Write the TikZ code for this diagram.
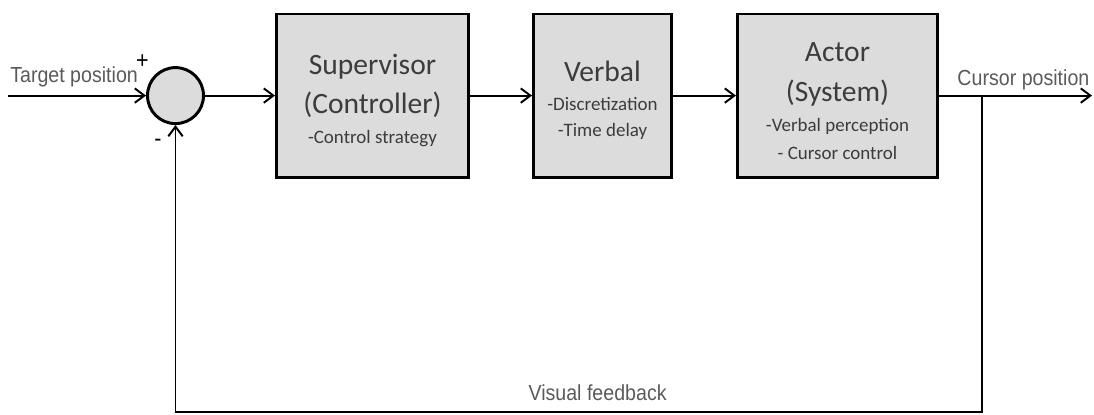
\documentclass[tikz,border=0pt]{standalone}
\usepackage{fontspec}
\setmainfont{Carlito}
\newfontfamily\labelfont[FakeStretch=0.9]{Liberation Sans}
\usetikzlibrary{arrows.meta}

\definecolor{blockgray}{HTML}{DCDCDC}
\definecolor{blocktext}{HTML}{3C3C3C}
\definecolor{labeltext}{HTML}{5A5A5A}

\newcommand{\titlesize}{\fontsize{21}{27}\selectfont}
\newcommand{\notesize}{\fontsize{13.5}{18}\selectfont}
% pushes the block text a little below the middle
\newcommand{\topgap}{\rule{0pt}{21pt}}

\tikzset{
  block/.style = {draw, line width = 2.1pt, fill = blockgray, text = blocktext,
    font = \titlesize, minimum height = 4.08cm, align = center, inner sep = 0pt},
  sumpoint/.style = {draw, circle, line width = 2.1pt, fill = blockgray,
    minimum size = 1.4cm, inner sep = 0pt},
  signal/.style = {line width = 1.4pt,
    -{Straight Barb[length = 2.4mm, width = 3.6mm, line width = 1.4pt]}},
  sig/.style = {text = labeltext, font = \labelfont\fontsize{15.5}{18}\selectfont,
    inner sep = 0pt}
}

\begin{document}
\begin{tikzpicture}
  \useasboundingbox (0, 0) rectangle (27.35, 10.35);

  % summing point and the three blocks
  \node[sumpoint] (sum) at (4.3875, 7.96) {};
  \node[block, minimum width = 4.8cm] (sup) at (9.3125, 7.96)
    {\topgap Supervisor\\[1pt] (Controller)\\[-6pt] \notesize -Control strategy};
  \node[block, minimum width = 3.45cm] (verb) at (15.0625, 7.96)
    {\topgap Verbal\\[-6pt] \notesize -Discretization\\[-9pt] \notesize -Time delay};
  \node[block, minimum width = 5.0cm] (act) at (20.9375, 7.96)
    {\topgap Actor\\[2pt] (System)\\[-6pt] \notesize -Verbal perception\\[-7pt]
     \notesize - Cursor control};

  \coordinate (in) at (0.2, 7.96);
  \coordinate (out) at (27.3, 7.96);
  \coordinate (tap) at (24.55, 7.96);
  \coordinate (fb) at (24.55, 0.05);

  % forward path
  \draw[signal] (in) -- (sum.west);
  \draw[signal] (sum.east) -- (sup.west);
  \draw[signal] (sup.east) -- (verb.west);
  \draw[signal] (verb.east) -- (act.west);
  \draw[signal] (act.east) -- (out);

  % feedback path
  \draw[signal] (tap) -- (fb) -| (sum.south);

  \node[sig, anchor = base west] (target) at (0.25, 8.3) {Target position};
  \node[sig, anchor = base west] (cursor) at (23.93, 8.22) {Cursor position};
  \node[sig, anchor = base] (visual) at (14.94, 0.33) {Visual feedback};
  \node[font = \labelfont\fontsize{17}{18}\selectfont, inner sep = 0pt] (plus) at (3.56, 8.82) {+};
  \node[font = \labelfont\fontsize{17}{18}\selectfont, inner sep = 0pt] (minus) at (3.95, 6.78) {-};
\end{tikzpicture}
\end{document}
